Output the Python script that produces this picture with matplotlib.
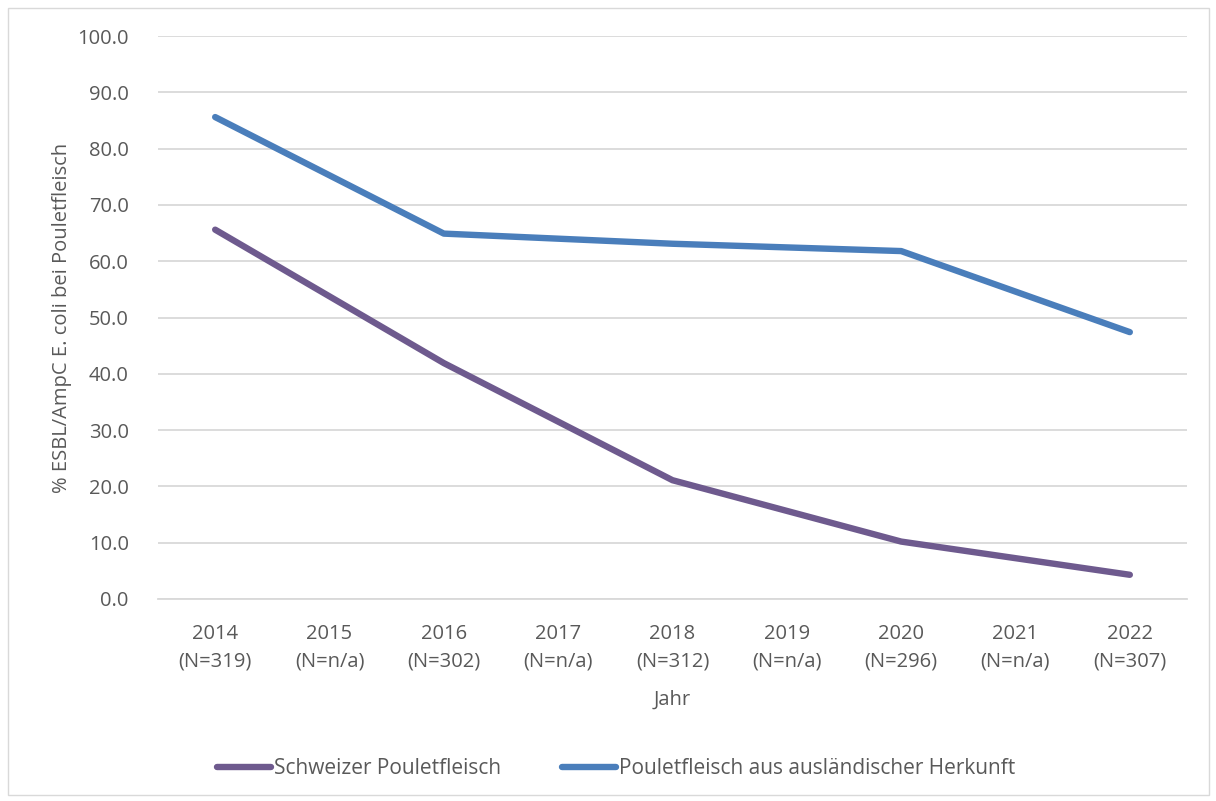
import matplotlib
matplotlib.use("Agg")
import matplotlib.pyplot as plt
from matplotlib.patches import Rectangle
import numpy as np

# Data
years = ["2014", "2015", "2016", "2017", "2018", "2019", "2020", "2021", "2022"]
sample_sizes = ["319", "n/a", "302", "n/a", "312", "n/a", "296", "n/a", "307"]
swiss = [65.6, np.nan, 41.9, np.nan, 21.1, np.nan, 10.2, np.nan, 4.3]
foreign = [85.6, np.nan, 64.9, np.nan, 63.1, np.nan, 61.8, np.nan, 47.4]
series_names = ["Schweizer Pouletfleisch", "Pouletfleisch aus ausländischer Herkunft"]
y_ticks = [0, 10, 20, 30, 40, 50, 60, 70, 80, 90, 100]

TEXT = "#595959"
GRID = "#D9D9D9"
PURPLE = "#6E5A8E"
BLUE = "#4A7EBB"
FS = 14.5

plt.rcParams["font.family"] = ["Open Sans", "DejaVu Sans"]

fig = plt.figure(figsize=(12.16, 8.01), dpi=100)
ax = fig.add_axes([158 / 1216, 1 - 599 / 801, (1187 - 158) / 1216, (599 - 36) / 801])

x = np.arange(len(years))


def plot_gapless(values, color, label):
    v = np.asarray(values, dtype=float)
    m = ~np.isnan(v)
    ax.plot(x[m], v[m], color=color, lw=4.6, solid_capstyle="round",
            solid_joinstyle="round", label=label, zorder=3)


plot_gapless(swiss, PURPLE, series_names[0])
plot_gapless(foreign, BLUE, series_names[1])

ax.set_xlim(-0.5, len(years) - 0.5)
ax.set_ylim(0, 100)
ax.set_yticks(y_ticks)
ax.set_yticklabels([f"{t:.1f}" for t in y_ticks])
ax.set_xticks(x)
ax.set_xticklabels([f"{y}\n(N={n})" for y, n in zip(years, sample_sizes)],
                   linespacing=1.5)

ax.grid(axis="y", color=GRID, lw=1.3, zorder=0)
ax.set_axisbelow(True)
for s in ["left", "right", "top"]:
    ax.spines[s].set_visible(False)
ax.spines["bottom"].set_color(GRID)
ax.spines["bottom"].set_linewidth(1.3)
ax.tick_params(length=0, labelsize=FS, colors=TEXT)
ax.tick_params(axis="y", pad=21)
ax.tick_params(axis="x", pad=18)

ax.set_ylabel("% ESBL/AmpC E. coli bei Pouletfleisch", fontsize=FS,
              color=TEXT, labelpad=4)
ax.set_xlabel("Jahr", fontsize=FS, color=TEXT, labelpad=13)

leg = fig.legend(loc="center", bbox_to_anchor=(616 / 1216, 1 - 769 / 801),
                 ncol=2, frameon=False, fontsize=15, handlelength=2.6,
                 handletextpad=0.15, columnspacing=2.9, labelcolor=TEXT)

# Chart area border
fig.patches.append(Rectangle((8 / 1216, 6 / 801), (1209 - 8) / 1216, (795 - 8) / 801,
                             transform=fig.transFigure, fill=False,
                             edgecolor=GRID, lw=1.0))

fig.savefig("out.png", dpi=100)
